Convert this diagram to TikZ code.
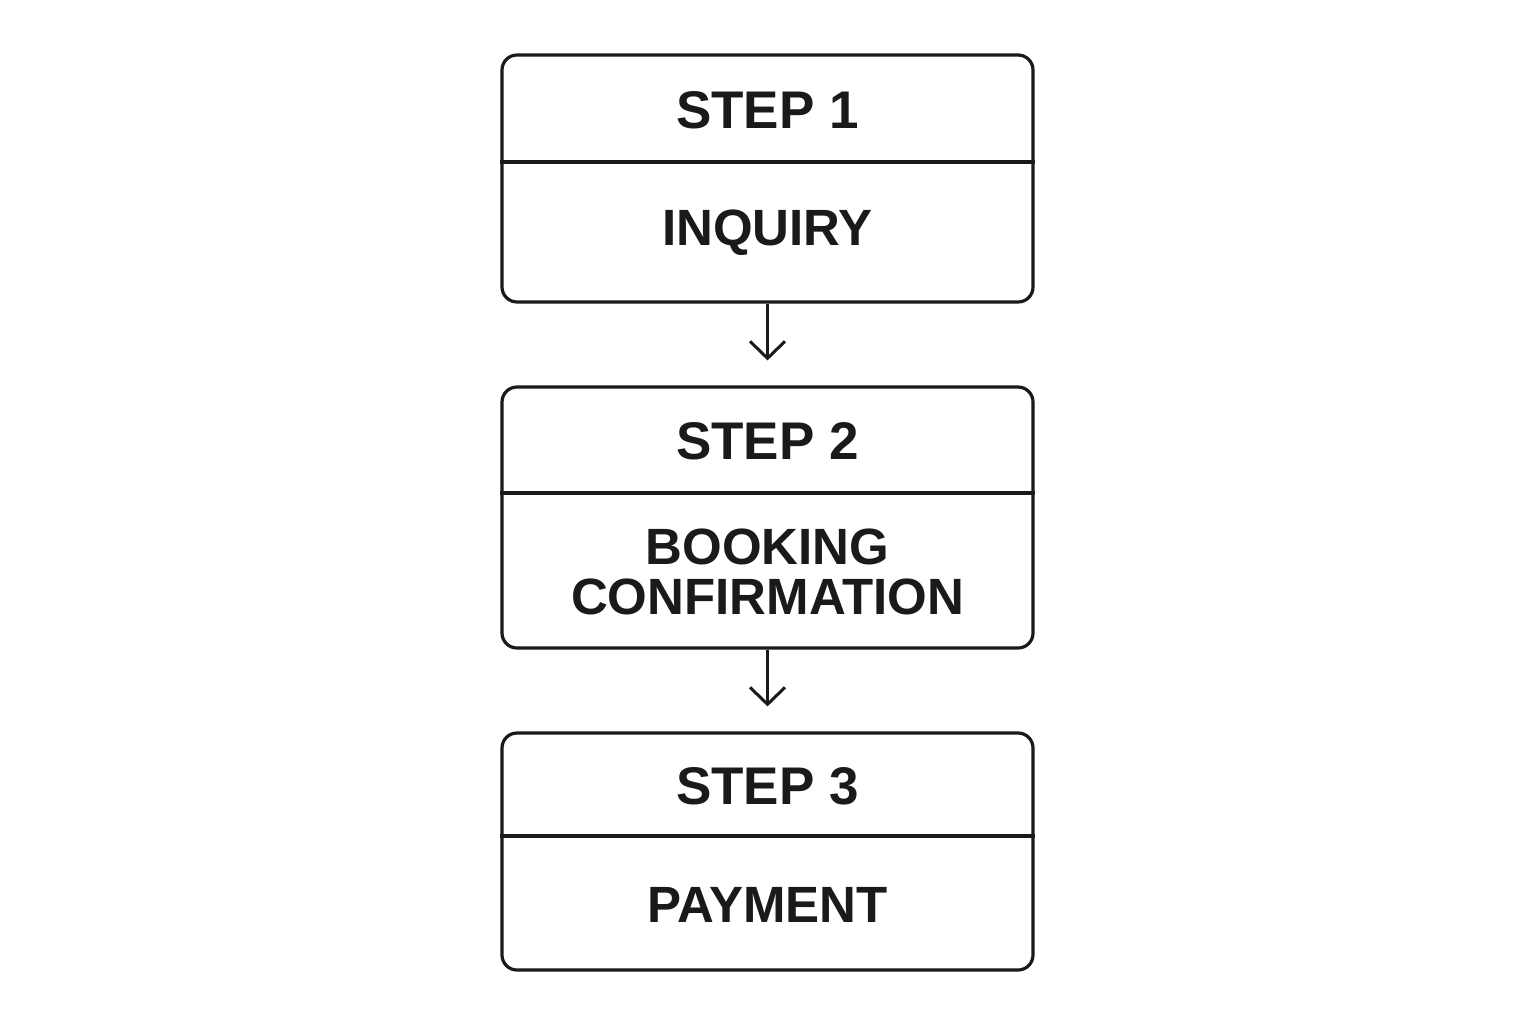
\documentclass[tikz,border=0pt]{standalone}
\usepackage{fontspec}
\setmainfont{Liberation Sans}
\usetikzlibrary{arrows.meta,positioning}
\definecolor{ink}{HTML}{1A1A1A}
\begin{document}
\begin{tikzpicture}[x=0.5pt,y=-0.5pt,
  stepbox/.style={draw=ink,line width=1.6pt,rounded corners=7.5pt,minimum width=265.5pt,inner sep=0pt},
  steptitle/.style={text=ink,font=\bfseries\fontsize{26.5}{30}\selectfont},
  stepbody/.style={text=ink,font=\bfseries\fontsize{25.5}{25}\selectfont,align=center},
  flow/.style={draw=ink,line width=1.5pt,-{Straight Barb[length=8.5pt,width=17.5pt,line width=1.5pt]},shorten >=12.5pt}]
  \useasboundingbox[fill=white] (0,0) rectangle (1536,1024);
  % boxes
  \node[stepbox,minimum height=123.5pt] (box1) at (767.5,178.5) {};
  \node[stepbox,minimum height=130.5pt] (box2) at (767.5,517.5) {};
  \node[stepbox,minimum height=118.5pt] (box3) at (767.5,851.5) {};
  % dividers
  \draw[ink,line width=1.6pt] (box1.west |- 0,162) -- (box1.east |- 0,162);
  \draw[ink,line width=1.6pt] (box2.west |- 0,493) -- (box2.east |- 0,493);
  \draw[ink,line width=1.6pt] (box3.west |- 0,836) -- (box3.east |- 0,836);
  % texts
  \node[steptitle] (title1) at (767.5,110) {STEP 1};
  \node[stepbody] (body1) at (767.5,233) {INQUIRY};
  \node[steptitle] (title2) at (767.5,441) {STEP 2};
  \node[stepbody] (body2) at (767.5,572) {BOOKING\\CONFIRMATION};
  \node[steptitle] (title3) at (767.5,786) {STEP 3};
  \node[stepbody] (body3) at (767.5,905) {PAYMENT};
  % arrows
  \draw[flow] (box1.south) -- (box2.north);
  \draw[flow] (box2.south) -- (box3.north);
\end{tikzpicture}
\end{document}
